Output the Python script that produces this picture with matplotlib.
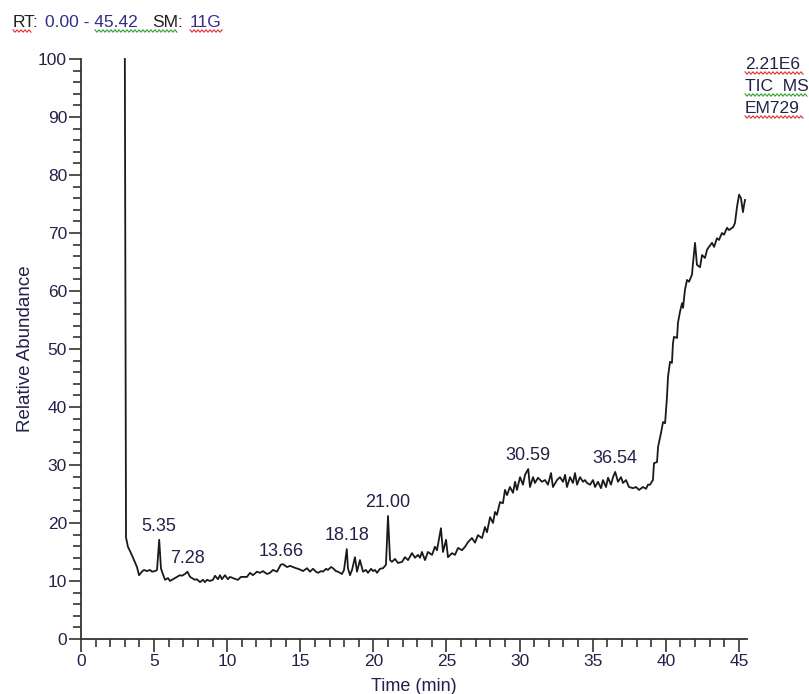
import matplotlib.pyplot as plt
from matplotlib.lines import Line2D
from matplotlib.ticker import MultipleLocator

plt.rcParams['font.family'] = ['Liberation Sans', 'DejaVu Sans']

# Chromatogram trace (time in min, relative abundance in %)
time_min = [
    3.00, 3.04, 3.08, 3.21, 3.42, 3.56, 3.83, 3.97, 4.17, 4.31, 4.51, 4.72, 4.86, 5.06, 5.20,
    5.35, 5.47, 5.54, 5.75, 5.95, 6.09, 6.22, 6.43, 6.57, 6.77, 6.91, 7.11, 7.28, 7.46, 7.59,
    7.80, 7.93, 8.14, 8.34, 8.48, 8.62, 8.82, 9.03, 9.17, 9.37, 9.51, 9.64, 9.85, 10.05, 10.19,
    10.40, 10.60, 10.74, 10.94, 11.08, 11.35, 11.56, 11.76, 12.04, 12.24, 12.45, 12.72, 12.93,
    13.13, 13.41, 13.66, 13.82, 14.09, 14.30, 14.50, 14.71, 14.84, 15.05, 15.18, 15.46, 15.66,
    15.87, 16.07, 16.21, 16.42, 16.55, 16.76, 16.89, 17.10, 17.24, 17.44, 17.58, 17.85, 17.99,
    18.18, 18.26, 18.40, 18.54, 18.74, 18.88, 19.08, 19.29, 19.49, 19.63, 19.84, 19.97, 20.11,
    20.25, 20.45, 20.66, 20.86, 21.00, 21.14, 21.27, 21.48, 21.68, 21.96, 22.16, 22.37, 22.64,
    22.85, 23.05, 23.19, 23.32, 23.53, 23.73, 24.01, 24.21, 24.35, 24.62, 24.76, 24.97, 25.10,
    25.38, 25.58, 25.79, 26.06, 26.27, 26.47, 26.74, 26.95, 27.15, 27.43, 27.63, 27.77, 27.98,
    28.18, 28.32, 28.45, 28.66, 28.86, 29.00, 29.14, 29.34, 29.55, 29.69, 29.82, 30.03, 30.23,
    30.37, 30.59, 30.71, 30.92, 31.05, 31.26, 31.53, 31.74, 31.94, 32.15, 32.28, 32.56, 32.76,
    32.97, 33.11, 33.24, 33.45, 33.65, 33.79, 33.93, 34.13, 34.34, 34.47, 34.61, 34.82, 35.02,
    35.16, 35.36, 35.57, 35.70, 35.91, 36.05, 36.25, 36.39, 36.54, 36.73, 36.94, 37.07, 37.28,
    37.48, 37.76, 37.96, 38.17, 38.44, 38.65, 38.78, 38.92, 39.12, 39.19, 39.40, 39.47, 39.67,
    39.81, 39.95, 40.08, 40.15, 40.29, 40.42, 40.49, 40.56, 40.77, 40.83, 40.97, 41.11, 41.18,
    41.31, 41.45, 41.59, 41.79, 41.86, 42.00, 42.13, 42.34, 42.48, 42.68, 42.82, 42.95, 43.16,
    43.30, 43.50, 43.64, 43.84, 43.98, 44.19, 44.32, 44.60, 44.73, 44.87, 45.01, 45.14, 45.28,
    45.35, 45.42,
]
abundance = [
    100.0, 60.0, 17.5, 15.9, 14.8, 14.0, 12.4, 11.0, 11.6, 11.9, 11.7, 11.9, 11.6, 11.7, 11.9,
    17.1, 12.2, 11.6, 10.2, 10.5, 10.0, 10.2, 10.5, 10.7, 11.0, 10.9, 11.2, 11.6, 10.7, 10.5,
    10.2, 10.3, 9.8, 10.2, 9.8, 10.2, 10.0, 10.2, 10.9, 10.3, 11.0, 10.3, 11.0, 10.3, 10.7,
    10.5, 10.3, 10.2, 10.7, 10.7, 10.7, 11.4, 11.0, 11.6, 11.4, 11.7, 11.2, 11.4,
    11.9, 11.6, 12.8, 12.9, 12.4, 12.6, 12.4, 12.2, 12.1, 11.9, 11.7, 12.2, 11.6,
    12.1, 11.6, 11.4, 11.7, 11.6, 12.1, 11.9, 12.4, 12.2, 11.7, 11.6, 11.2, 11.9,
    15.5, 12.2, 11.0, 11.9, 14.1, 11.6, 13.6, 11.6, 11.9, 11.4, 12.1, 11.7, 11.9,
    11.4, 12.1, 12.2, 12.8, 21.2, 13.6, 13.3, 13.8, 13.1, 13.3, 14.1, 13.6, 14.8,
    14.0, 14.5, 14.0, 15.0, 13.6, 15.0, 14.5, 15.9, 15.3, 19.1, 15.0, 17.1, 14.1,
    14.8, 14.5, 15.7, 15.3, 15.9, 16.7, 17.4, 16.6, 17.9, 17.4, 19.3, 18.4, 21.0,
    20.0, 21.9, 21.4, 23.6, 23.4, 25.7, 24.8, 26.2, 25.2, 27.1, 25.7, 27.9, 26.6,
    28.3, 29.3, 26.2, 27.9, 26.9, 27.8, 27.1, 27.4, 26.6, 28.6, 26.2, 27.4, 27.9,
    27.1, 28.3, 26.2, 27.9, 26.9, 28.6, 26.6, 27.9, 27.1, 27.4, 26.9, 26.6, 27.4,
    26.2, 27.1, 26.0, 27.4, 26.2, 27.8, 26.6, 27.9, 28.8, 27.1, 27.9, 26.9, 27.4,
    26.2, 26.0, 26.2, 25.7, 26.2, 25.9, 26.6, 26.6, 27.4, 30.3, 30.5, 33.1, 35.5,
    37.4, 37.2, 41.7, 45.2, 47.8, 47.6, 51.0, 52.1, 51.9, 54.5, 56.4, 57.9, 57.1,
    60.2, 61.9, 61.6, 62.8, 64.8, 68.3, 64.5, 64.1, 66.2, 65.7, 67.1, 67.6, 68.3,
    67.6, 69.1, 68.8, 70.0, 69.7, 70.9, 70.5, 71.0, 71.7, 74.5, 76.6, 76.0, 73.6,
    74.8, 75.7,
]

# Labelled peaks
peak_times = [5.35, 7.28, 13.66, 18.18, 21.00, 30.59, 36.54]
peak_heights = [17.1, 11.6, 12.8, 15.5, 21.2, 29.3, 28.8]

text_color = '#22224a'
W, H = 809, 694


def squiggle(fig, x0, x1, y, color):
    # spell-check style wavy underline, given in pixels from top-left
    xs, ys = [], []
    x, k = x0, 0
    while x <= x1:
        xs.append(x / W)
        ys.append(1 - (y + (1.2 if k % 2 else -1.2)) / H)
        x += 2
        k += 1
    fig.add_artist(Line2D(xs, ys, transform=fig.transFigure, color=color, linewidth=0.8))


fig = plt.figure(figsize=(8.09, 6.94), dpi=100)
ax = fig.add_axes([0.1001, 0.0793, 0.8232, 0.8357])

ax.plot(time_min, abundance, color='#1a1a1a', linewidth=1.3, clip_on=False)

for t, h in zip(peak_times, peak_heights):
    ax.annotate(f"{t:.2f}", xy=(t, h), xytext=(0, 3.5), textcoords='offset points',
                ha='center', va='bottom', fontsize=13, color=text_color)

ax.set_xlim(0, 45.55)
ax.set_ylim(0, 100)
ax.xaxis.set_major_locator(MultipleLocator(5))
ax.xaxis.set_minor_locator(MultipleLocator(1))
ax.yaxis.set_major_locator(MultipleLocator(10))
ax.yaxis.set_minor_locator(MultipleLocator(2))

for side in ['top', 'right']:
    ax.spines[side].set_visible(False)
for side in ['left', 'bottom']:
    ax.spines[side].set_linewidth(1.3)
    ax.spines[side].set_color('#333333')

ax.tick_params(which='major', direction='out', length=9, width=1.2, color='#333333',
               labelsize=12.5, labelcolor=text_color)
ax.tick_params(which='minor', direction='out', length=6, width=1.2, color='#333333')
ax.tick_params(axis='x', which='major', pad=2)
ax.tick_params(axis='y', which='major', pad=1)

ax.set_xlabel("Time (min)", fontsize=13, color=text_color, labelpad=6)
ax.set_ylabel("Relative Abundance", fontsize=13.5, color=text_color, labelpad=3)

# header text
fig.text(13 / W, 1 - 27 / H, "RT:", fontsize=12.5, color='#202020')
fig.text(45 / W, 1 - 27 / H, "0.00 - 45.42", fontsize=12.5, color='#2e2e8c')
fig.text(152 / W, 1 - 27 / H, "SM:", fontsize=12.5, color='#202020')
fig.text(190 / W, 1 - 27 / H, "11G", fontsize=12.5, color='#3a2a90')
squiggle(fig, 13, 32, 31, '#e03030')
squiggle(fig, 95, 178, 31, '#30a030')
squiggle(fig, 190, 222, 31, '#e03030')

# trace info on the right
for i, s in enumerate(["2.21E6", "TIC  MS", "EM729"]):
    fig.text(745 / W, 1 - (69 + 22 * i) / H, s, fontsize=12.5, color=text_color)
squiggle(fig, 745, 803, 73, '#e03030')
squiggle(fig, 745, 808, 95, '#30a030')
squiggle(fig, 745, 803, 117, '#e03030')

fig.savefig("out.png", dpi=100, facecolor='white')
